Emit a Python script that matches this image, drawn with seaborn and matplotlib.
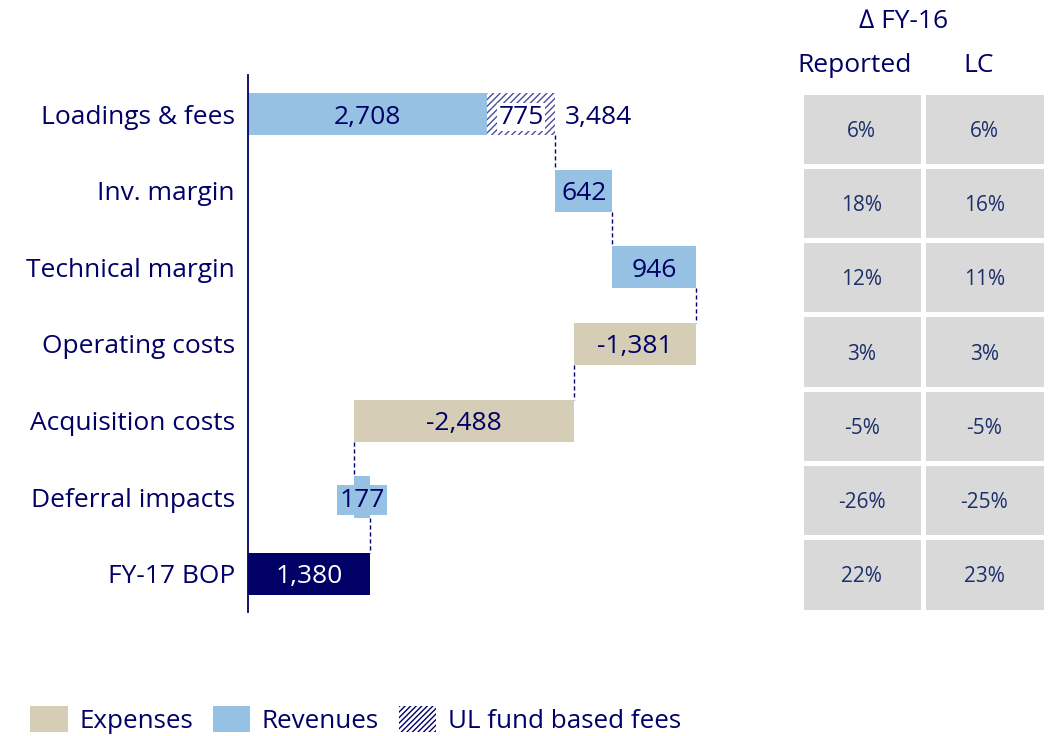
import numpy as np
import pandas as pd
import matplotlib
matplotlib.use("Agg")
import matplotlib.pyplot as plt
from matplotlib.colors import ListedColormap
from matplotlib.patches import Patch
import seaborn as sns

# ---------------- data ----------------
categories = ["Loadings & fees", "Inv. margin", "Technical margin", "Operating costs",
              "Acquisition costs", "Deferral impacts", "FY-17 BOP"]
loadings_revenue = 2708
ul_fund_fees = 775
loadings_total = 3484
changes = [642, 946, -1381, -2488, 177]   # Inv. margin .. Deferral impacts
fy17_bop = 1380

delta_reported = [6, 18, 12, 3, -5, -26, 22]
delta_lc = [6, 16, 11, 3, -5, -25, 23]
table_cols = ["Reported", "LC"]

legend_labels = ["Expenses", "Revenues", "UL fund based fees"]

# ---------------- styling ----------------
NAVY = "#000066"
BLUE = "#96c1e2"
BEIGE = "#d5cdb5"
GREY = "#d9d9d9"
TABLE_TXT = "#1c2f6b"
FS = 19

sns.set_theme(style="white")
plt.rcParams["font.family"] = ["Open Sans", "DejaVu Sans"]
plt.rcParams["hatch.linewidth"] = 1.0

W, H = 1054, 736
fig = plt.figure(figsize=(W / 100, H / 100), dpi=100)

def px_axes(x0, y0, x1, y1):
    return fig.add_axes([x0 / W, 1 - y1 / H, (x1 - x0) / W, (y1 - y0) / H])

# ---------------- waterfall ----------------
ax = px_axes(248, 75, 740, 612)

lefts, widths, colors, ends = [0], [loadings_revenue], [BLUE], [loadings_total]
cum = loadings_total
for c in changes:
    lefts.append(cum if c > 0 else cum + c)
    widths.append(abs(c))
    colors.append(BLUE if c > 0 else BEIGE)
    cum += c
    ends.append(cum)
lefts.append(0)
widths.append(fy17_bop)
colors.append(NAVY)

df = pd.DataFrame({"category": categories, "width": widths})
sns.barplot(data=df, x="width", y="category", order=categories, left=lefts,
            width=0.55, errorbar=None, color=BLUE, ax=ax, linewidth=0)
for p, c in zip(ax.patches, colors):
    p.set_facecolor(c)
    p.set_edgecolor("none")

# hatched UL fund based fees segment
n_before = len(ax.patches)
sns.barplot(x=[loadings_total - loadings_revenue], y=[categories[0]], order=categories,
            left=loadings_revenue, width=0.55, errorbar=None, color="white", ax=ax,
            linewidth=0)
for p in ax.patches[n_before:]:
    p.set_facecolor("white")
    p.set_edgecolor("#4a4f96")
    p.set_hatch("/////")
    p.set_linewidth(0)

VA = "center_baseline"
# labels
ax.text(loadings_revenue / 2, 0, f"{loadings_revenue:,}", ha="center", va=VA,
        fontsize=FS, color=NAVY)
ax.text(loadings_revenue + (loadings_total - loadings_revenue) / 2, 0, f"{ul_fund_fees:,}",
        ha="center", va=VA, fontsize=FS, color=NAVY,
        bbox=dict(boxstyle="square,pad=0.05", fc="white", ec="none"))
ax.text(loadings_total + 110, 0, f"{loadings_total:,}", ha="left", va=VA,
        fontsize=FS, color=NAVY)
for i, c in enumerate(changes, start=1):
    xc = lefts[i] + widths[i] / 2
    if abs(c) < 300:
        ax.text(xc, i, f"{c:,}", ha="center", va=VA, fontsize=FS, color=NAVY,
                bbox=dict(boxstyle="square,pad=0.1", fc=BLUE, ec="none"))
    else:
        ax.text(xc, i, f"{c:,}", ha="center", va=VA, fontsize=FS, color=NAVY)
ax.text(fy17_bop / 2, 6, f"{fy17_bop:,}", ha="center", va=VA, fontsize=FS,
        color="white")

# connectors
for i in range(6):
    x = ends[i]
    ax.plot([x, x], [i + 0.275, i + 1 - 0.275], color=NAVY, lw=1.0,
            ls=(0, (3, 2)), zorder=0.5)

ax.set_xlim(0, 492 / (239 / 2708))
ax.set_ylim(6.496, -0.509)
ax.set_xlabel("")
ax.set_ylabel("")
ax.set_xticks([])
for s in ["top", "right", "bottom"]:
    ax.spines[s].set_visible(False)
ax.spines["left"].set_color(NAVY)
ax.spines["left"].set_linewidth(1.3)
ax.tick_params(axis="y", length=0, pad=9.5, labelsize=FS, labelcolor=NAVY)

# ---------------- table ----------------
tax = px_axes(800.5, 91.5, 1045.5, 611.5)
tdf = pd.DataFrame({"Reported": delta_reported, "LC": delta_lc}, index=categories)
annot = np.array([[f"{v}%" for v in row] for row in tdf.values])
sns.heatmap(tdf, ax=tax, cmap=ListedColormap([GREY]), cbar=False, annot=annot, fmt="",
            linewidths=3.6, linecolor="white", xticklabels=False, yticklabels=False,
            annot_kws=dict(fontsize=15, color=TABLE_TXT, va="center_baseline"))
tax.set_xlabel("")
tax.set_ylabel("")

fig.text(855 / W, 1 - 63 / H, table_cols[0], ha="center", va=VA, fontsize=FS, color=NAVY)
fig.text(979 / W, 1 - 63 / H, table_cols[1], ha="center", va=VA, fontsize=FS, color=NAVY)
fig.text(904 / W, 1 - 19 / H, "\u2206 FY-16", ha="center", va=VA, fontsize=FS,
         color=NAVY)

# ---------------- legend ----------------
handles = [Patch(facecolor=BEIGE, edgecolor="none"),
           Patch(facecolor=BLUE, edgecolor="none"),
           Patch(facecolor="white", edgecolor=NAVY, hatch="//////", linewidth=0)]
leg = fig.legend(handles, legend_labels, loc="lower left", bbox_to_anchor=(30 / W, 2 / H),
                 ncol=3, frameon=False, fontsize=18.7, handlelength=1.45, handleheight=1.15,
                 handletextpad=0.45, columnspacing=0.75, borderpad=0, borderaxespad=0)
for t in leg.get_texts():
    t.set_color(NAVY)

fig.savefig("out.png", dpi=100)
